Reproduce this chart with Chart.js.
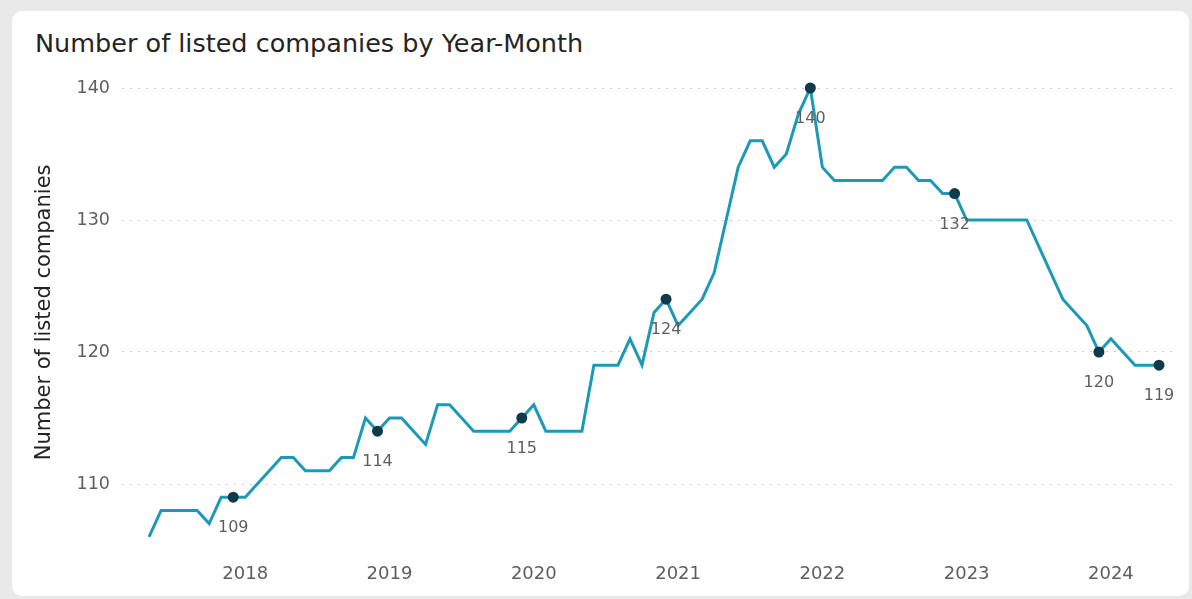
<!DOCTYPE html>
<html><head><meta charset="utf-8">
<script src="https://cdn.jsdelivr.net/npm/chart.js@4"></script>
<style>
html,body{margin:0;padding:0;background:#e9e9e9;width:1192px;height:599px;overflow:hidden;}
#card{position:absolute;left:12px;top:11px;width:1177px;height:585px;background:#fff;border-radius:10px;}
#title{position:absolute;left:35px;top:28px;font-family:"DejaVu Sans";font-size:25.5px;color:#252423;white-space:nowrap;}
#wrap{position:absolute;left:0;top:0;width:1192px;height:599px;}
</style></head><body>
<div id="card"></div>
<div id="title">Number of listed companies by Year-Month</div>
<div id="wrap"><canvas id="c" width="1192" height="599"></canvas></div>
<script>
const startYear = 2017, startMonth = 5; // first month shown: May 2017
const values2017 = [106,108,108,108,108,107,109,109];               // May-Dec
const values2018 = [109,110,111,112,112,111,111,111,112,112,115,114];
const values2019 = [115,115,114,113,116,116,115,114,114,114,114,115];
const values2020 = [116,114,114,114,114,119,119,119,121,119,123,124];
const values2021 = [122,123,124,126,130,134,136,136,134,135,138,140];
const values2022 = [134,133,133,133,133,133,134,134,133,133,132,132];
const values2023 = [130,130,130,130,130,130,128,126,124,123,122,120];
const values2024 = [121,120,119,119,119];                            // Jan-May
const yearLabels = ['2018','2019','2020','2021','2022','2023','2024'];
const yTicks = [110,120,130,140];

const values = [].concat(values2017, values2018, values2019, values2020, values2021, values2022, values2023, values2024);
const points = values.map((v,i) => ({x:i, y:v}));
const monthOf = i => (startMonth - 1 + i) % 12 + 1;
const marked = values.map((v,i) => monthOf(i) === 12 || i === values.length - 1);
const yearTickIdx = yearLabels.map(y => (Number(y) - startYear) * 12 - (startMonth - 1));

const labelPlugin = {
  id: 'pointLabels',
  afterDatasetsDraw(chart) {
    const meta = chart.getDatasetMeta(0);
    const ctx = chart.ctx;
    ctx.save();
    ctx.font = '16px "DejaVu Sans"';
    ctx.fillStyle = '#605E5C';
    ctx.textAlign = 'center';
    ctx.textBaseline = 'middle';
    meta.data.forEach((pt, i) => {
      if (!marked[i]) return;
      ctx.fillText(String(values[i]), pt.x, pt.y + 31);
    });
    ctx.restore();
  }
};

new Chart(document.getElementById('c'), {
  type: 'line',
  data: { datasets: [{
    data: points,
    borderColor: '#1B9AB8',
    borderWidth: 3,
    pointRadius: marked.map(m => m ? 5.5 : 0),
    pointHoverRadius: marked.map(m => m ? 5.5 : 0),
    pointBackgroundColor: '#0D3B4C',
    pointBorderWidth: 0,
    tension: 0,
    clip: false
  }]},
  options: {
    responsive: false, animation: false, devicePixelRatio: 1,
    layout: { padding: { left: 12, right: 17, top: 74.8, bottom: 0 } },
    plugins: { legend: { display: false }, tooltip: { enabled: false } },
    scales: {
      x: {
        type: 'linear', min: -2.25, max: 85.33,
        grid: { display: false }, border: { display: false },
        afterBuildTicks: s => { s.ticks = yearTickIdx.map(v => ({ value: v })); },
        afterFit: s => { s.height = 49; },
        ticks: {
          autoSkip: false, maxRotation: 0, padding: 6, color: '#605E5C',
          font: { family: 'DejaVu Sans', size: 18 },
          callback: (v, idx) => yearLabels[idx]
        }
      },
      y: {
        min: 105, max: 141,
        afterBuildTicks: s => { s.ticks = yTicks.map(v => ({ value: v })); },
        afterFit: s => { s.width = 110; },
        grid: { color: 'rgba(0,0,0,0.2)', drawTicks: false, lineWidth: 1 },
        border: { display: false, dash: [2, 6] },
        ticks: { padding: 12, color: '#605E5C', font: { family: 'DejaVu Sans', size: 17.5 } },
        title: {
          display: true, text: 'Number of listed companies', color: '#252423',
          font: { family: 'DejaVu Sans', size: 21 }, padding: { top: 20.4, bottom: 0 }
        }
      }
    }
  },
  plugins: [labelPlugin]
});
</script>
</body></html>
